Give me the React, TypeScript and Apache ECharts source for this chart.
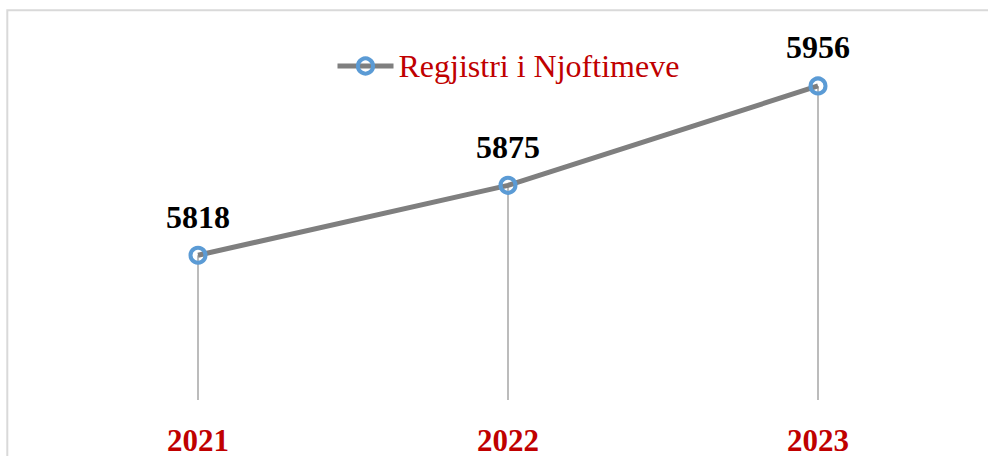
import React, { useEffect, useRef } from "react";
import * as echarts from "echarts";

const categories = ["2021", "2022", "2023"];
const seriesName = "Regjistri i Njoftimeve";
const values = [5818, 5875, 5956];
const yMin = 5700;
const yMax = 6000;

const SERIF = "Liberation Serif, Times New Roman, serif";

export default function App() {
  const ref = useRef<HTMLDivElement>(null);
  useEffect(() => {
    if (!ref.current) return;
    const chart = echarts.init(ref.current, undefined, { renderer: "svg" });
    const dropLines = categories.map((c, i) => [
      { coord: [c, values[i]] },
      { coord: [c, yMin] },
    ]);
    chart.setOption({
      animation: false,
      backgroundColor: "#ffffff",
      graphic: [
        {
          type: "rect",
          shape: { x: 7.3, y: 10.3, width: 1000, height: 500 },
          style: { fill: "none", stroke: "#D9D9D9", lineWidth: 2 },
          silent: true,
          z: -1,
        },
      ],
      legend: {
        data: [seriesName],
        top: 50,
        left: 335,
        padding: 0,
        itemWidth: 56,
        itemHeight: 19,
        lineStyle: { width: 5, color: "#7F7F7F" },
        itemStyle: { borderWidth: 4, borderColor: "#5B9BD5" },
        textStyle: {
          fontFamily: SERIF,
          fontSize: 32,
          color: "#C00000",
        },
      },
      grid: { left: 43, right: 15, top: 32, bottom: 48, containLabel: false },
      xAxis: {
        type: "category",
        data: categories,
        boundaryGap: true,
        axisLine: { show: false },
        axisTick: { show: false },
        splitLine: { show: false },
        axisLabel: {
          margin: 25,
          fontFamily: SERIF,
          fontWeight: "bold",
          fontSize: 31,
          color: "#C00000",
        },
      },
      yAxis: {
        type: "value",
        min: yMin,
        max: yMax,
        show: false,
        splitLine: { show: false },
      },
      series: [
        {
          name: seriesName,
          type: "line",
          data: values,
          symbol: "circle",
          symbolSize: 15,
          lineStyle: { color: "#7F7F7F", width: 5 },
          itemStyle: {
            color: "rgba(255,255,255,0)",
            borderColor: "#5B9BD5",
            borderWidth: 4,
          },
          label: {
            show: true,
            position: "top",
            distance: 13,
            fontFamily: SERIF,
            fontWeight: "bold",
            fontSize: 32,
            color: "#000000",
          },
          markLine: {
            silent: true,
            symbol: ["none", "none"],
            label: { show: false },
            lineStyle: { color: "#A6A6A6", width: 1.5, type: "solid" },
            data: dropLines,
            z: 1,
          },
          z: 3,
        },
      ],
    });
    return () => chart.dispose();
  }, []);
  return (
    <div
      ref={ref}
      style={{ position: "absolute", left: 0, top: 0, width: 988, height: 456 }}
    />
  );
}
